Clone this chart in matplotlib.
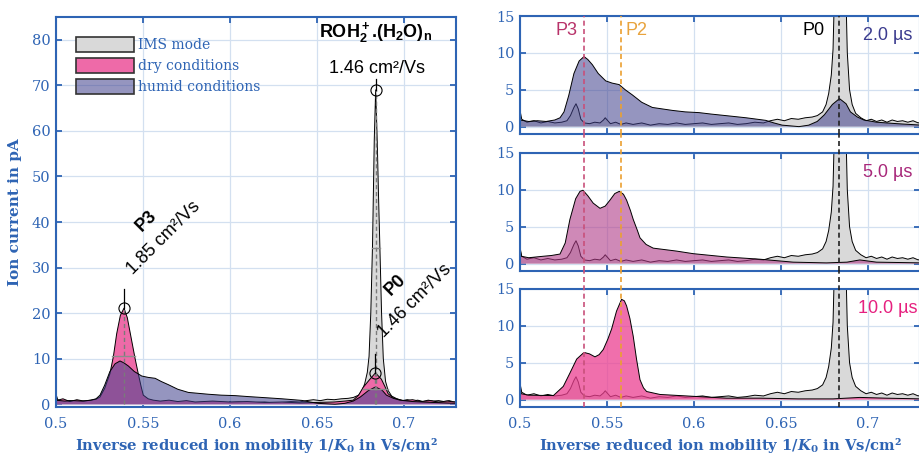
import numpy as np
import matplotlib
matplotlib.use("Agg")
import matplotlib.pyplot as plt

plt.rcParams['mathtext.fontset'] = 'custom'
plt.rcParams['mathtext.rm'] = 'Liberation Sans'
plt.rcParams['mathtext.bf'] = 'Liberation Sans:bold'
plt.rcParams['mathtext.it'] = 'Liberation Sans:italic'

# --- data: (1/K0, current in pA) ---
ims = np.array([
    (0.500, 2.2), (0.501, 1.0), (0.504, 0.6), (0.508, 0.8), (0.512, 0.5), (0.516, 0.7),
    (0.520, 0.5), (0.524, 0.6), (0.527, 0.8), (0.529, 1.5), (0.531, 2.6), (0.5322, 3.1),
    (0.5335, 2.4), (0.535, 1.0), (0.537, 0.5), (0.540, 0.4), (0.543, 0.6), (0.546, 0.5),
    (0.548, 0.9), (0.549, 1.2), (0.5505, 0.8), (0.552, 0.4), (0.555, 0.6), (0.558, 0.3),
    (0.561, 0.5), (0.565, 0.3), (0.570, 0.5), (0.575, 0.2), (0.580, 0.4), (0.585, 0.3),
    (0.590, 0.5), (0.595, 0.3), (0.600, 0.4), (0.605, 0.5), (0.610, 0.3), (0.615, 0.4),
    (0.620, 0.5), (0.625, 0.3), (0.630, 0.4), (0.635, 0.6), (0.640, 0.5), (0.644, 0.8),
    (0.648, 1.0), (0.652, 0.8), (0.656, 1.1), (0.660, 1.0), (0.664, 1.2), (0.668, 1.3),
    (0.671, 1.5), (0.674, 2.0), (0.676, 3.0), (0.6775, 4.5), (0.679, 7.0), (0.680, 10.5),
    (0.681, 20.0), (0.682, 35.0), (0.683, 58.0), (0.6838, 69.0), (0.6847, 58.0),
    (0.6855, 45.0), (0.6862, 35.0), (0.6872, 20.0), (0.6882, 10.0), (0.6895, 5.0),
    (0.691, 3.0), (0.693, 1.8), (0.696, 1.2), (0.699, 0.8), (0.702, 1.0), (0.705, 0.7),
    (0.708, 0.9), (0.711, 0.6), (0.714, 0.9), (0.717, 0.7), (0.720, 0.8), (0.723, 0.6),
    (0.726, 0.8), (0.729, 0.5), (0.731, 0.7)])

dry = np.array([
    (0.500, 0.8), (0.504, 1.2), (0.508, 0.6), (0.512, 1.0), (0.516, 0.7), (0.520, 0.9),
    (0.523, 1.1), (0.5253, 1.6), (0.528, 3.5), (0.531, 6.7), (0.533, 10.5), (0.5349, 15.5),
    (0.537, 19.5), (0.5391, 21.1), (0.541, 19.0), (0.5435, 14.0), (0.5455, 10.0),
    (0.5473, 6.7), (0.549, 3.8), (0.5502, 2.0), (0.553, 1.2), (0.556, 0.9), (0.560, 0.7),
    (0.565, 0.9), (0.570, 0.6), (0.575, 0.8), (0.580, 0.5), (0.590, 0.7), (0.600, 0.5),
    (0.610, 0.6), (0.620, 0.4), (0.630, 0.5), (0.640, 0.3), (0.650, 0.4), (0.660, 0.5),
    (0.666, 0.7), (0.6709, 0.9), (0.674, 2.0), (0.6766, 3.7), (0.6805, 5.5), (0.6837, 6.9),
    (0.6871, 5.5), (0.689, 4.0), (0.691, 2.3), (0.694, 1.4), (0.6977, 1.0), (0.700, 0.8),
    (0.705, 1.0), (0.710, 0.6), (0.715, 0.8), (0.720, 0.5), (0.725, 0.7), (0.731, 0.4)])

humid = np.array([
    (0.500, 0.9), (0.505, 0.7), (0.510, 0.8), (0.515, 0.7), (0.520, 0.9), (0.523, 1.2),
    (0.5253, 2.0), (0.528, 4.2), (0.531, 7.2), (0.534, 8.9), (0.5368, 9.5), (0.539, 9.1),
    (0.5416, 8.4), (0.545, 7.2), (0.5493, 6.2), (0.553, 5.9), (0.557, 5.7), (0.5605, 5.0),
    (0.5646, 4.3), (0.570, 3.3), (0.5761, 2.6), (0.5876, 2.2), (0.595, 2.0), (0.6029, 1.9),
    (0.610, 1.7), (0.6221, 1.4), (0.630, 1.2), (0.6413, 0.85), (0.646, 0.5), (0.6508, 0.2),
    (0.6604, 0.0), (0.666, 0.2), (0.6709, 0.7), (0.675, 1.6), (0.6796, 3.0), (0.6837, 3.8),
    (0.6875, 3.1), (0.690, 2.0), (0.694, 1.3), (0.6977, 0.9), (0.705, 0.6), (0.7168, 0.4),
    (0.731, 0.2)])

d5 = np.array([
    (0.500, 2.1), (0.5007, 1.0), (0.505, 0.8), (0.5134, 1.0), (0.518, 1.1), (0.523, 1.3),
    (0.526, 2.8), (0.5287, 6.0), (0.532, 8.8), (0.5345, 9.8), (0.5362, 9.95), (0.539, 9.2),
    (0.5421, 8.2), (0.546, 7.5), (0.549, 7.8), (0.5517, 8.6), (0.5545, 9.5), (0.5571, 9.8),
    (0.5595, 9.4), (0.5613, 8.6), (0.5635, 7.2), (0.5651, 6.0), (0.5675, 4.5), (0.569, 3.5),
    (0.5725, 2.6), (0.5766, 2.1), (0.590, 1.7), (0.5996, 1.35), (0.6188, 0.9),
    (0.6379, 0.6), (0.6571, 0.2), (0.6762, 0.1), (0.688, 0.2), (0.6954, 0.5), (0.705, 0.2),
    (0.731, 0.1)])

d10 = np.array([
    (0.500, 1.8), (0.5007, 0.8), (0.505, 0.6), (0.5192, 0.55), (0.5249, 1.8), (0.5287, 3.6),
    (0.5326, 5.5), (0.5368, 6.4), (0.540, 6.2), (0.5431, 5.8), (0.5455, 6.1), (0.5479, 6.8),
    (0.5505, 8.2), (0.5527, 9.6), (0.5555, 12.0), (0.5584, 13.6), (0.560, 13.4),
    (0.5613, 12.7), (0.5632, 11.0), (0.5651, 8.6), (0.567, 5.5), (0.569, 2.7), (0.571, 1.6),
    (0.5728, 1.1), (0.5805, 0.7), (0.5996, 0.45), (0.6188, 0.2), (0.6379, 0.2), (0.660, 0.1),
    (0.680, 0.1), (0.6954, 0.3), (0.710, 0.2), (0.731, 0.1)])

# peak positions
p3_x = 0.5368
p2_x = 0.5579
p0_x = 0.6837
peak_p3 = (0.5391, 21.1)
peak_p0 = (0.6838, 69.0)
peak_p0_dry = (0.6837, 6.9)

xticks = [0.5, 0.55, 0.6, 0.65, 0.7]
xtick_labels = ['0.5', '0.55', '0.6', '0.65', '0.7']

# --- styling ---
blue = '#2e64b4'
grid_c = '#d3e0f0'
c_ims = '#d9d9d9'
c_dry = '#ee6aa8'
c_hum = '#3f3f8c'
c_5 = '#b03a88'
c_10 = '#ec3f90'
serif = 'DejaVu Serif'
sans = 'Liberation Sans'
xlab = r'Inverse reduced ion mobility 1/$\mathbfit{K}_\mathbf{0}$ in Vs/cm²'

W, H = 919, 457
fig = plt.figure(figsize=(W / 100, H / 100), dpi=100)


def style(ax, ylim, yticks, show_x=True):
    ax.set_xlim(0.5, 0.73)
    ax.set_ylim(*ylim)
    ax.set_xticks(xticks)
    ax.set_yticks(yticks)
    if show_x:
        ax.set_xticklabels(xtick_labels)
    else:
        ax.set_xticklabels([])
    ax.set_yticklabels([str(v) for v in yticks])
    ax.grid(True, color=grid_c, lw=0.9)
    ax.set_axisbelow(True)
    for s in ax.spines.values():
        s.set_color(blue)
        s.set_linewidth(1.5)
    ax.tick_params(direction='in', top=True, right=True, color=blue, width=1.3,
                   length=4, labelcolor=blue, labelsize=10.5)
    ax.tick_params(axis='y', pad=4)
    ax.tick_params(axis='x', pad=7)
    for lab in ax.get_xticklabels() + ax.get_yticklabels():
        lab.set_family(serif)


def area(ax, d, color, alpha, z, label=None):
    ax.fill_between(d[:, 0], d[:, 1], 0, facecolor=color, alpha=alpha, zorder=z,
                    lw=0, label=label)
    ax.plot(d[:, 0], d[:, 1], color='k', lw=0.7, zorder=z + 0.1)


# ---------------- left panel ----------------
axL = fig.add_axes([56 / W, 1 - 407 / H, 400 / W, 390 / H])
area(axL, ims, c_ims, 1.0, 2, 'IMS mode')
area(axL, dry, c_dry, 1.0, 2.2, 'dry conditions')
area(axL, humid, c_hum, 0.55, 2.4, 'humid conditions')
style(axL, (-0.6, 85), list(range(0, 81, 10)))

# peak markers
for (px, py), top in [(peak_p3, 25.4), (peak_p0, 71.3), (peak_p0_dry, 11.1)]:
    axL.plot([px, px], [0, py], ls=(0, (3, 2)), color='#7a7a7a', lw=1.0, zorder=3)
    axL.plot([px, px], [py, top], color='k', lw=0.9, zorder=3)
    axL.plot(px, py, 'o', ms=8, mfc='none', mec='k', mew=0.8, zorder=4)
# half-height markers
for xa, xb, yh in [(0.532, 0.5456, 10.5), (0.6818, 0.6862, 34.4), (0.6766, 0.6908, 3.4)]:
    axL.plot([xa, xb], [yh, yh], color='#8c8c8c', lw=1.0, zorder=3)

axL.text(0.684, 81.7, r'$\mathbf{ROH_2^+}$.$\mathbf{(H_2O)_n}$', ha='center',
         va='center', fontsize=13, family=sans, weight='bold', color='k')
axL.text(0.6843, 73.7, '1.46 cm²/Vs', ha='center', va='center', fontsize=13,
         family=sans, color='k')
axL.text(0.5517, 40.2, 'P3', ha='center', va='center', fontsize=13, family=sans,
         weight='bold', rotation=45, rotation_mode='anchor')
axL.text(0.5621, 36.5, '1.85 cm²/Vs', ha='center', va='center', fontsize=13,
         family=sans, rotation=45, rotation_mode='anchor')
axL.text(0.6952, 26.2, 'P0', ha='center', va='center', fontsize=13, family=sans,
         weight='bold', rotation=45, rotation_mode='anchor')
axL.text(0.7063, 22.7, '1.46 cm²/Vs', ha='center', va='center', fontsize=13,
         family=sans, rotation=45, rotation_mode='anchor')

axL.set_ylabel('Ion current in pA', family=serif, weight='bold', color=blue,
               fontsize=11, labelpad=7)
axL.set_xlabel(xlab, family=serif, weight='bold', color=blue, fontsize=10.6,
               labelpad=4, math_fontfamily='dejavuserif')

leg = axL.legend(loc='upper left', bbox_to_anchor=(0.05, 0.948), frameon=False,
                 borderpad=0, borderaxespad=0, handlelength=4.2, handleheight=1.25,
                 handletextpad=0.3, labelspacing=0.42, prop={'family': serif, 'size': 10})
for t in leg.get_texts():
    t.set_color(blue)
for h in leg.legend_handles:
    h.set_edgecolor('#333333')
    h.set_linewidth(1.2)

# ---------------- right panels ----------------
panels = [(16, humid, c_hum, 0.55, '2.0 µs', '#3b3b8f', 0.7255),
          (153, d5, c_5, 0.6, '5.0 µs', '#a8287a', 0.7255),
          (289, d10, c_10, 0.75, '10.0 µs', '#e6207f', 0.7285)]
gap = 19 / 118
for i, (top_px, d, col, al, lab, lab_c, lab_x) in enumerate(panels):
    ax = fig.add_axes([520 / W, 1 - (top_px + 118) / H, 400 / W, 118 / H])
    area(ax, ims, c_ims, 1.0, 2)
    area(ax, d, col, al, 2.2)
    style(ax, (-1, 15), [0, 5, 10, 15], show_x=(i == 2))
    ymax = 1.0 if i == 0 else 1 + gap
    for xv, lc in [(p3_x, '#c8507a'), (p2_x, '#eba030'), (p0_x, '#222222')]:
        ax.axvline(xv, ymin=0, ymax=ymax, color=lc, ls=(0, (3, 2)), lw=1.2,
                   zorder=3, clip_on=False)
    ax.text(lab_x, 12.3, lab, ha='right', va='center', fontsize=13, family=sans,
            color=lab_c, zorder=5)
    if i == 0:
        ax.text(0.5333, 13.1, 'P3', ha='right', va='center', fontsize=13,
                family=sans, color='#b8336a')
        ax.text(0.5609, 13.1, 'P2', ha='left', va='center', fontsize=13,
                family=sans, color='#e8a33d')
        ax.text(0.6753, 13.1, 'P0', ha='right', va='center', fontsize=13,
                family=sans, color='k')
    if i == 2:
        ax.set_xlabel(xlab, family=serif, weight='bold', color=blue, fontsize=10.6,
                      labelpad=4, math_fontfamily='dejavuserif')

fig.savefig('out.png', dpi=100)
